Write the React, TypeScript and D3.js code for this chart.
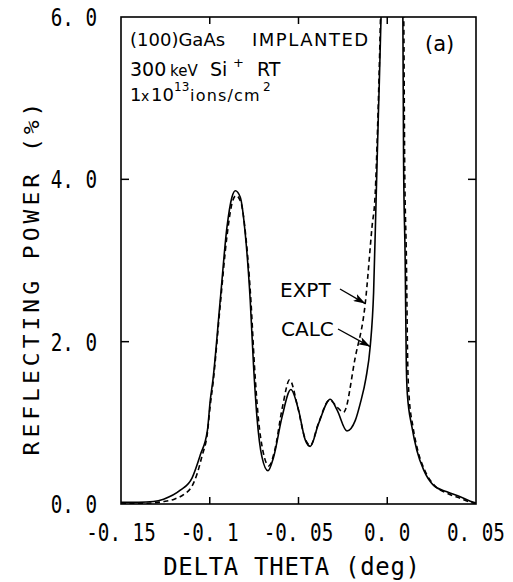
import React, { useRef, useEffect } from "react";
import * as d3 from "d3";

// CALC (solid) curve
const calcX = [
  -0.15, -0.14, -0.1317, -0.126, -0.1166, -0.11, -0.1054, -0.1013, -0.0997,
  -0.0982, -0.0941, -0.0903, -0.0875, -0.0856, -0.0828, -0.08, -0.0772,
  -0.0753, -0.0734, -0.0706, -0.0672, -0.064, -0.0593, -0.0543, -0.05,
  -0.0462, -0.0434, -0.0387, -0.0321, -0.0283, -0.0227, -0.018, -0.0152,
  -0.012, -0.0096, -0.0077, -0.0062, -0.005, -0.0035, -0.002, 0.0025, 0.007,
  0.0088, 0.0092, 0.0101, 0.0107, 0.0113, 0.0139, 0.0167, 0.0205, 0.0261,
  0.0336, 0.0411, 0.0486, 0.05,
];
const calcY = [
  0.02, 0.02, 0.03, 0.06, 0.17, 0.32, 0.6, 0.91, 1.28, 1.53, 2.51, 3.41, 3.78,
  3.86, 3.78, 3.33, 2.51, 1.69, 1.07, 0.58, 0.41, 0.58, 1.07, 1.41, 1.16, 0.79,
  0.71, 0.99, 1.29, 1.16, 0.9, 1.03, 1.24, 1.55, 1.94, 2.6, 3.82, 4.8, 6.0, 8.0,
  12.0, 8.0, 6.0, 4.23, 3.0, 1.77, 1.36, 0.95, 0.66, 0.42, 0.23, 0.15, 0.09,
  0.02, 0.01,
];

// EXPT (dashed) curve
const exptX = [
  -0.15, -0.135, -0.126, -0.12, -0.1145, -0.11, -0.107, -0.1045, -0.1013,
  -0.0997, -0.0982, -0.0941, -0.0903, -0.0875, -0.0852, -0.0825, -0.0797,
  -0.0768, -0.0748, -0.0728, -0.07, -0.0667, -0.0635, -0.059, -0.055, -0.0505,
  -0.0465, -0.0434, -0.0387, -0.0325, -0.0285, -0.0246, -0.018,
  -0.0124, -0.0086, -0.0068, -0.0055, -0.0038, -0.002, 0.0028, 0.0075, 0.0093,
  0.0098, 0.0108, 0.0115, 0.0122, 0.0145, 0.0172, 0.021, 0.0265, 0.034,
  0.0411, 0.047, 0.05,
];
const exptY = [
  0.0, 0.01, 0.03, 0.06, 0.12, 0.22, 0.38, 0.58, 0.88, 1.22, 1.48, 2.45, 3.3,
  3.7, 3.8, 3.72, 3.3, 2.5, 1.7, 1.1, 0.65, 0.47, 0.65, 1.2, 1.53, 1.2, 0.82,
  0.72, 1.0, 1.28, 1.2, 1.13, 1.81, 2.47, 3.41, 3.82, 4.6, 6.0, 8.0, 12.0,
  8.0, 6.0, 4.23, 3.0, 1.77, 1.36, 0.95, 0.66, 0.42, 0.23, 0.13, 0.07, 0.02,
  0.0,
];

const xTicks = [-0.15, -0.1, -0.05, 0.0, 0.05];
const xTickLabels = ["-0. 15", "-0. 1", "-0. 05", "0. 0", "0. 05"];
const yTicks = [0, 2, 4, 6];
const yTickLabels = ["0. 0", "2. 0", "4. 0", "6. 0"];
const innerXTicks = [-0.1, -0.05, 0.0];
const innerYTicks = [2, 4];

const W = 513;
const H = 582;

const App = () => {
  const svgRef = useRef(null);

  useEffect(() => {
    const svg = d3.select(svgRef.current);
    svg.selectAll("*").remove();

    const x = d3.scaleLinear().domain([-0.15, 0.05]).range([121, 476]);
    const y = d3.scaleLinear().domain([0, 6]).range([504, 17]);
    const [x0, x1] = x.range();
    const [y0, y1] = y.range();

    const defs = svg.append("defs");
    defs
      .append("clipPath")
      .attr("id", "plot-clip")
      .append("rect")
      .attr("x", x0)
      .attr("y", y1)
      .attr("width", x1 - x0)
      .attr("height", y0 - y1);
    defs
      .append("marker")
      .attr("id", "arrow")
      .attr("markerUnits", "userSpaceOnUse")
      .attr("viewBox", "0 0 12 8")
      .attr("refX", 12)
      .attr("refY", 4)
      .attr("markerWidth", 12)
      .attr("markerHeight", 8)
      .attr("orient", "auto")
      .append("path")
      .attr("d", "M0,0 L12,4 L0,8 L3,4 Z")
      .attr("fill", "#000");

    // curves
    const line = d3
      .line()
      .x((d) => x(d[0]))
      .y((d) => y(d[1]))
      .curve(d3.curveMonotoneX);

    const curves = svg.append("g").attr("clip-path", "url(#plot-clip)");
    curves
      .append("path")
      .attr("d", line(exptX.map((v, i) => [v, exptY[i]])))
      .attr("fill", "none")
      .attr("stroke", "#000")
      .attr("stroke-width", 1.6)
      .attr("stroke-dasharray", "5,3.5");
    curves
      .append("path")
      .attr("d", line(calcX.map((v, i) => [v, calcY[i]])))
      .attr("fill", "none")
      .attr("stroke", "#000")
      .attr("stroke-width", 1.6);

    // frame
    svg
      .append("rect")
      .attr("x", x0)
      .attr("y", y1)
      .attr("width", x1 - x0)
      .attr("height", y0 - y1)
      .attr("fill", "none")
      .attr("stroke", "#000")
      .attr("stroke-width", 1.6);

    // inward ticks
    const ticks = svg.append("g").attr("stroke", "#000").attr("stroke-width", 1.5);
    innerXTicks.forEach((t) => {
      ticks.append("line").attr("x1", x(t)).attr("x2", x(t)).attr("y1", y0).attr("y2", y0 - 7);
      ticks.append("line").attr("x1", x(t)).attr("x2", x(t)).attr("y1", y1).attr("y2", y1 + 7);
    });
    innerYTicks.forEach((t) => {
      ticks.append("line").attr("x1", x0).attr("x2", x0 + 8).attr("y1", y(t)).attr("y2", y(t));
      ticks.append("line").attr("x1", x1).attr("x2", x1 - 8).attr("y1", y(t)).attr("y2", y(t));
    });

    const mono = "'DejaVu Sans Mono', monospace";
    const sans = "'DejaVu Sans', sans-serif";

    // tick labels
    xTicks.forEach((t, i) => {
      svg
        .append("text")
        .attr("transform", `translate(${x(t)},541) scale(0.77,1)`)
        .attr("text-anchor", "middle")
        .attr("font-family", mono)
        .attr("font-size", 25)
        .text(xTickLabels[i]);
    });
    yTicks.forEach((t, i) => {
      svg
        .append("text")
        .attr("transform", `translate(97,${y(t) + 9}) scale(0.77,1)`)
        .attr("text-anchor", "end")
        .attr("font-family", mono)
        .attr("font-size", 25)
        .text(yTickLabels[i]);
    });

    // axis titles
    svg
      .append("text")
      .attr("transform", "translate(39,277) rotate(-90) scale(1,0.9)")
      .attr("text-anchor", "middle")
      .attr("font-family", mono)
      .attr("font-size", 23)
      .attr("letter-spacing", 4)
      .text("REFLECTING POWER (%)");
    svg
      .append("text")
      .attr("x", 292)
      .attr("y", 575)
      .attr("text-anchor", "middle")
      .attr("font-family", mono)
      .attr("font-size", 24)
      .attr("letter-spacing", 0.7)
      .text("DELTA THETA (deg)");

    // annotation block
    const note = svg.append("g").attr("font-family", sans).attr("fill", "#000");
    const l1 = note.append("text").attr("y", 46).attr("font-size", 18);
    l1.append("tspan").attr("x", 130).text("(100)GaAs");
    l1.append("tspan").attr("x", 252).attr("letter-spacing", 1.5).text("IMPLANTED");

    const l2 = note.append("text").attr("y", 76).attr("font-size", 19);
    l2.append("tspan").attr("x", 130).text("300");
    l2.append("tspan").attr("x", 170).attr("font-size", 15).text("keV");
    l2.append("tspan").attr("x", 210).text("Si");
    l2.append("tspan").attr("x", 233).attr("y", 67).attr("font-size", 13).text("+");
    l2.append("tspan").attr("x", 257).attr("y", 76).text("RT");

    const l3 = note.append("text").attr("y", 101).attr("font-size", 18);
    l3.append("tspan").attr("x", 130).text("1");
    l3.append("tspan").attr("x", 141).attr("font-size", 14).text("x");
    l3.append("tspan").attr("x", 151).text("10");
    l3.append("tspan").attr("x", 174).attr("y", 91).attr("font-size", 12).text("13");
    l3
      .append("tspan")
      .attr("x", 190)
      .attr("y", 101)
      .attr("font-size", 16)
      .attr("letter-spacing", 1.2)
      .text("ions/cm");
    l3.append("tspan").attr("x", 263).attr("y", 91).attr("font-size", 12).text("2");

    note
      .append("text")
      .attr("x", 425)
      .attr("y", 51)
      .attr("font-size", 21)
      .text("(a)");

    // curve labels with arrows
    const labels = [
      { text: "EXPT", tx: 280, ty: 297, px: -0.0124, py: 2.47, fx: 340, fy: 289 },
      { text: "CALC", tx: 281, ty: 336, px: -0.0096, py: 1.94, fx: 338, fy: 329 },
    ];
    labels.forEach((d) => {
      note
        .append("text")
        .attr("x", d.tx)
        .attr("y", d.ty)
        .attr("font-size", 20)
        .text(d.text);
      note
        .append("line")
        .attr("x1", d.fx)
        .attr("y1", d.fy)
        .attr("x2", x(d.px))
        .attr("y2", y(d.py))
        .attr("stroke", "#000")
        .attr("stroke-width", 1.4)
        .attr("marker-end", "url(#arrow)");
    });
  }, []);

  return (
    <svg
      ref={svgRef}
      width={W}
      height={H}
      style={{ position: "absolute", left: 0, top: 0, background: "#fff" }}
    ></svg>
  );
};

export default App;
